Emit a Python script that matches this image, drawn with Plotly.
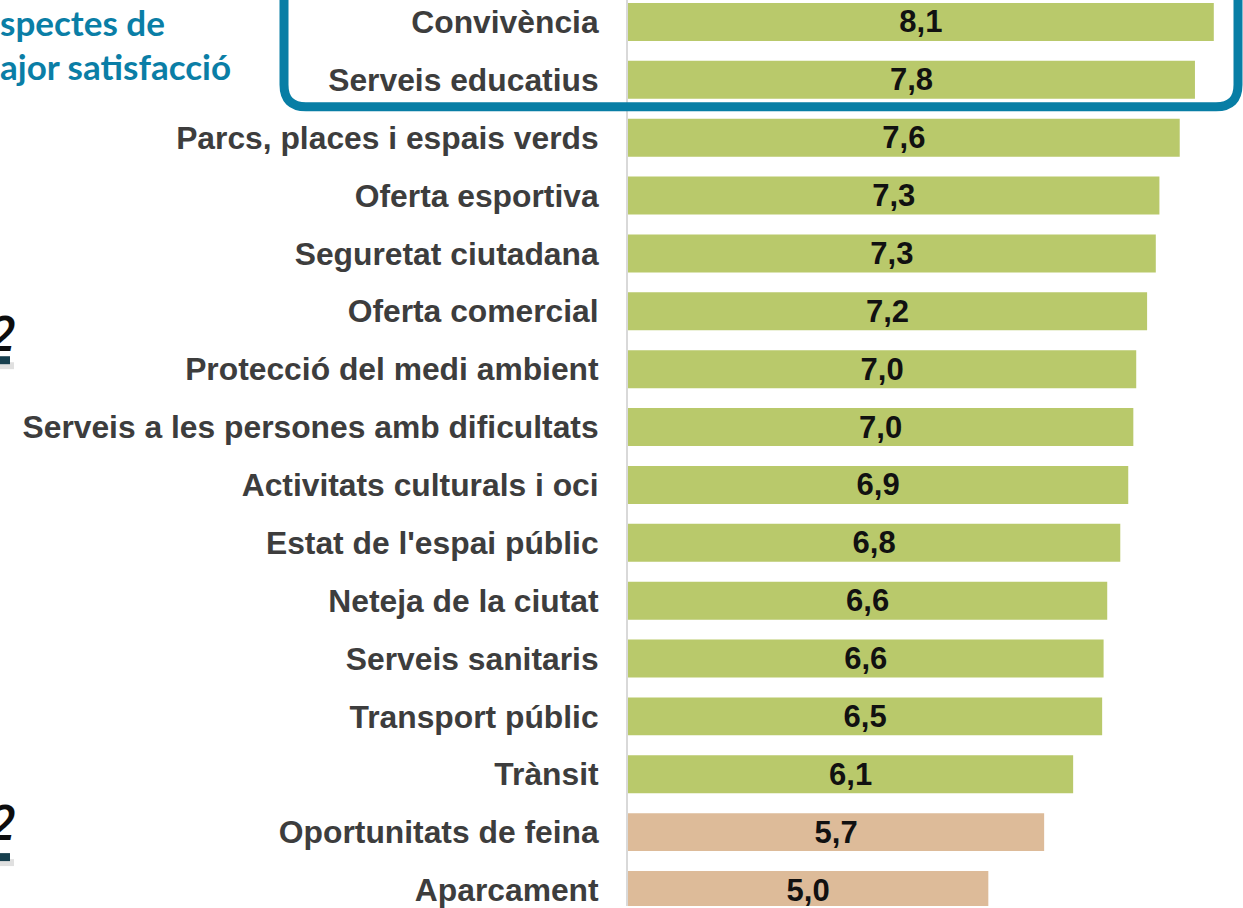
import plotly.graph_objects as go

categories = [
    "Convivència", "Serveis educatius", "Parcs, places i espais verds",
    "Oferta esportiva", "Seguretat ciutadana", "Oferta comercial",
    "Protecció del medi ambient", "Serveis a les persones amb dificultats",
    "Activitats culturals i oci", "Estat de l'espai públic", "Neteja de la ciutat",
    "Serveis sanitaris", "Transport públic", "Trànsit",
    "Oportunitats de feina", "Aparcament",
]
values = [8.08, 7.82, 7.61, 7.33, 7.28, 7.16, 7.01, 6.97, 6.90, 6.79, 6.61,
          6.56, 6.54, 6.14, 5.74, 4.97]
groups = ["ok"] * 14 + ["low"] * 2
title_lines = ["spectes de", "ajor satisfacció"]
side_marks = ["2", "2"]

W, H = 1243, 908
L = 628
PW = W - L
PX_PER_UNIT = 72.5
ROW = 58.0
FIRST_CENTER = 22.0

color_map = {"ok": "#B9C96B", "low": "#DDBB99"}
labels = [f"{v:.1f}".replace(".", ",") for v in values]

fig = go.Figure(go.Bar(
    y=categories, x=values, orientation="h",
    marker=dict(color=[color_map[g] for g in groups], line=dict(width=0)),
    text=labels, textposition="inside", insidetextanchor="middle",
    textfont=dict(family="Liberation Sans, Arial", size=31, color="#111111", weight="bold"),
    cliponaxis=False, hoverinfo="skip",
))

top = -FIRST_CENTER / ROW
bottom = top + H / ROW

def px(xp):
    return (xp - L) / PW

def py(yp):
    return 1 - yp / H

# rounded frame around top two rows
lx, rx_, by, ty = 284, 1238, 107, -30
r = 22
path = (f"M {px(lx)},{py(ty)} V {py(by - r)} Q {px(lx)},{py(by)} {px(lx + r)},{py(by)} "
        f"H {px(rx_ - r)} Q {px(rx_)},{py(by)} {px(rx_)},{py(by - r)} V {py(ty)}")

shapes = [
    dict(type="path", path=path, xref="paper", yref="paper",
         line=dict(color="#087EA5", width=9), layer="above"),
]
annotations = []
for i, t in enumerate(title_lines):
    annotations.append(dict(
        text=t, xref="paper", yref="paper", x=px(-2), y=py(22 + 44 * i),
        xanchor="left", yanchor="middle", showarrow=False,
        font=dict(family="Lato", size=35, color="#0A7EA6", weight="bold"),
    ))
for yc, m in zip([333, 823], side_marks):
    annotations.append(dict(
        text=m, xref="paper", yref="paper", x=px(17), y=py(yc),
        xanchor="right", yanchor="middle", showarrow=False,
        font=dict(family="Open Sans", size=48, color="#0D0D0D", style="italic", weight=600),
    ))
for yb in [357, 855]:
    shapes.append(dict(type="rect", xref="paper", yref="paper",
                       x0=px(0), x1=px(14), y0=py(yb + 13), y1=py(yb + 6),
                       fillcolor="rgba(0,0,0,0.12)", line=dict(width=0), layer="below"))
    shapes.append(dict(type="rect", xref="paper", yref="paper",
                       x0=px(0), x1=px(10), y0=py(yb + 8), y1=py(yb),
                       fillcolor="#173F4E", line=dict(width=0)))

fig.update_layout(
    width=W, height=H,
    margin=dict(l=L, r=0, t=0, b=0, pad=0),
    paper_bgcolor="white", plot_bgcolor="white",
    bargap=0.345,
    showlegend=False,
    uniformtext=dict(minsize=31, mode="show"),
    xaxis=dict(range=[0, PW / PX_PER_UNIT], visible=False, fixedrange=True),
    yaxis=dict(range=[bottom, top], showline=True, linecolor="#D9D9D9", linewidth=2,
               showgrid=False, zeroline=False, ticks="", ticklabelstandoff=21,
               fixedrange=True,
               tickfont=dict(family="Liberation Sans, Arial", size=31.8, color="#3D3D3D",
                             weight="bold")),
    shapes=shapes, annotations=annotations,
)

fig.write_html("out.html", config={"displayModeBar": False},
               post_script="document.body.style.margin='0px';")
